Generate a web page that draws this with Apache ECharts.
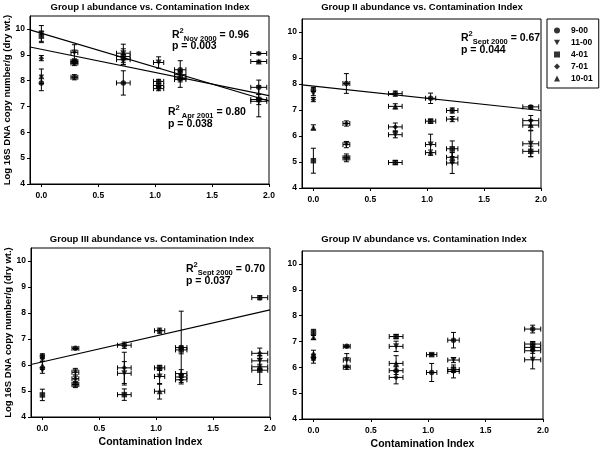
<!DOCTYPE html>
<html>
<head>
<meta charset="utf-8">
<script src="https://cdn.jsdelivr.net/npm/echarts@6/dist/echarts.min.js"></script>
<style>
  html, body { margin: 0; padding: 0; background: #fff; }
  #chart { width: 600px; height: 452px; }
</style>
</head>
<body>
<div id="chart"></div>
<script>
// x positions (contamination index of each site) and their +/- spread
const contaminationIndex = [0, 0.29, 0.72, 1.03, 1.22, 1.91]
const indexSpread = [0, 0.03, 0.06, 0.045, 0.05, 0.07]
const samplings = ['9-00', '11-00', '4-01', '7-01', '10-01']
const xTicks = [0, 0.5, 1, 1.5, 2]
const yTicks = [4, 5, 6, 7, 8, 9, 10]

// rows follow samplings order, columns follow contaminationIndex
const groupI = [
  [7.91, 8.13, 7.91, 7.97, 8.42, 7.74],
  [9.80, 9.09, 9.06, 8.70, 8.23, 7.20],
  [9.72, 8.74, 8.93, 7.81, 8.10, 7.27],
  [8.87, 8.68, 8.81, 7.69, 8.04, 9.05],
  [8.17, null, null, null, null, 8.74]
]
const groupIErr = [
  [0.30, 0.10, 0.47, 0.08, 0.35, 0.28],
  [0.33, 0.30, 0.35, 0.22, 0.15, 0.60],
  [0.20, 0.10, 0.30, 0.08, 0.15, 0.20],
  [0.10, 0.10, 0.20, 0.08, 0.30, 0.05],
  [0.28, null, null, null, null, 0.05]
]
const groupII = [
  [7.79, 8.02, 7.63, 7.45, 6.98, 7.12],
  [7.63, 5.67, 6.05, 5.67, 4.96, 5.70],
  [5.05, 5.16, 4.98, 6.57, 5.51, 5.41],
  [7.40, 6.48, 6.35, 5.36, 6.65, 6.59],
  [6.33, null, 7.14, null, 5.18, 6.42]
]
const groupIIErr = [
  [0.08, 0.38, 0.10, 0.20, 0.10, 0.05],
  [0.08, 0.12, 0.12, 0.40, 0.40, 0.50],
  [0.48, 0.15, 0.08, 0.08, 0.30, 0.20],
  [0.08, 0.10, 0.15, 0.10, 0.10, 0.20],
  [0.10, null, 0.10, null, 0.20, 0.20]
]
const groupIII = [
  [6.35, 6.64, 6.76, 7.32, 6.67, 8.59],
  [5.80, 5.72, 5.68, 5.56, 5.54, 6.16],
  [4.85, 5.25, 4.86, 5.89, 6.58, 5.80],
  [6.25, 5.47, 5.89, null, 5.43, 6.45],
  [5.98, null, null, 4.99, 5.67, 5.93]
]
const groupIIIErr = [
  [0.08, 0.05, 0.12, 0.10, 1.40, 0.08],
  [0.12, 0.15, 0.45, 0.30, 0.10, 0.20],
  [0.22, 0.12, 0.22, 0.10, 0.15, 0.55],
  [0.10, 0.15, 0.60, null, 0.10, 0.20],
  [0.15, null, null, 0.30, 0.15, 0.10]
]
const groupIV = [
  [6.38, 6.81, 5.87, 5.80, 7.05, 7.48],
  [6.28, 6.28, 6.81, null, 6.28, 6.29],
  [7.35, null, 7.19, 6.49, 5.91, 6.90],
  [6.51, 6.00, 5.61, null, 5.84, 6.64],
  [7.16, null, 6.15, null, null, 6.77]
]
const groupIVErr = [
  [0.10, 0.05, 0.15, 0.35, 0.30, 0.15],
  [0.12, 0.25, 0.20, null, 0.10, 0.35],
  [0.12, null, 0.08, 0.05, 0.10, 0.10],
  [0.15, 0.08, 0.25, null, 0.25, 0.10],
  [0.08, null, 0.30, null, null, 0.10]
]

// regression lines: [panel, intercept, slope]
const fitNov2000 = [0, 9.83, -1.31]
const fitApr2001 = [0, 9.21, -0.895]
const fitSept2000II = [1, 7.92, -0.47]
const fitSept2000III = [2, 6.12, 1.0]

const FONT = '"Liberation Sans", Arial, sans-serif'
const symbols = ['circle', 'path://M0,0L10,0L5,9Z', 'rect', 'diamond', 'triangle']
const panels = [
  { title: 'Group I abundance vs. Contamination Index', values: groupI, errs: groupIErr },
  { title: 'Group II abundance vs. Contamination Index', values: groupII, errs: groupIIErr },
  { title: 'Group III abundance vs. Contamination Index', values: groupIII, errs: groupIIIErr },
  { title: 'Group IV abundance vs. Contamination Index', values: groupIV, errs: groupIVErr }
]

const grids = [
  { left: 30, top: 16, width: 239, height: 168 },
  { left: 302, top: 19, width: 239, height: 169 },
  { left: 31, top: 248, width: 239, height: 169 },
  { left: 302, top: 251, width: 241, height: 168 }
]

const xAxes = grids.map((g, i) => ({
  type: 'value',
  gridIndex: i,
  min: -0.1,
  max: 2.0,
  name: i >= 2 ? 'Contamination Index' : '',
  nameLocation: 'middle',
  nameGap: 20,
  nameMoveOverlap: false,
  nameTextStyle: { fontSize: 10.5, fontWeight: 'bold', fontFamily: FONT, color: '#000' },
  axisLine: { onZero: false, lineStyle: { color: '#000', width: 1 } },
  axisTick: { customValues: xTicks, length: 3, lineStyle: { color: '#000' } },
  axisLabel: {
    customValues: xTicks,
    formatter: v => v.toFixed(1),
    fontSize: 8.5, fontWeight: 'bold', fontFamily: FONT, color: '#000', margin: 7
  },
  splitLine: { show: false }
}))

const yAxes = grids.map((g, i) => ({
  type: 'value',
  gridIndex: i,
  min: 4,
  max: 10.5,
  name: i % 2 === 0 ? 'Log 16S DNA copy number/g (dry wt.)' : '',
  nameLocation: 'middle',
  nameRotate: 90,
  nameGap: 18,
  nameMoveOverlap: false,
  nameTextStyle: { fontSize: 9.5, fontWeight: 'bold', fontFamily: FONT, color: '#000' },
  axisLine: { show: true, onZero: false, lineStyle: { color: '#000', width: 1 } },
  axisTick: { show: true, customValues: yTicks, length: 3, lineStyle: { color: '#000' } },
  axisLabel: {
    customValues: yTicks,
    fontSize: 8.5, fontWeight: 'bold', fontFamily: FONT, color: '#000', margin: 5
  },
  splitLine: { show: false }
}))

function pointsOf (values) {
  const out = []
  values.forEach((v, i) => {
    if (v != null) out.push([contaminationIndex[i], v])
  })
  return out
}

function barsOf (values, errs) {
  const out = []
  values.forEach((v, i) => {
    if (v != null) out.push([contaminationIndex[i], v, errs[i] || 0, indexSpread[i]])
  })
  return out
}

function renderBars (params, api) {
  const x = api.value(0)
  const y = api.value(1)
  const ey = api.value(2)
  const ex = api.value(3)
  const cap = 2.5
  const style = { stroke: '#000', lineWidth: 1 }
  const seg = (x1, y1, x2, y2) => ({ type: 'line', shape: { x1, y1, x2, y2 }, style })
  const children = []
  if (ey > 0) {
    const top = api.coord([x, y + ey])
    const bot = api.coord([x, y - ey])
    children.push(seg(top[0], top[1], bot[0], bot[1]))
    children.push(seg(top[0] - cap, top[1], top[0] + cap, top[1]))
    children.push(seg(bot[0] - cap, bot[1], bot[0] + cap, bot[1]))
  }
  if (ex > 0) {
    const l = api.coord([x - ex, y])
    const r = api.coord([x + ex, y])
    children.push(seg(l[0], l[1], r[0], r[1]))
    children.push(seg(l[0], l[1] - cap, l[0], l[1] + cap))
    children.push(seg(r[0], r[1] - cap, r[0], r[1] + cap))
  }
  return { type: 'group', children }
}

const series = []
panels.forEach((p, gi) => {
  p.values.forEach((row, si) => {
    series.push({
      name: samplings[si],
      type: 'scatter',
      xAxisIndex: gi,
      yAxisIndex: gi,
      symbol: symbols[si],
      symbolSize: si === 1 || si === 4 ? 6 : 5.5,
      itemStyle: { color: '#000' },
      data: pointsOf(row),
      z: 3,
      silent: true
    })
  })
})
panels.forEach((p, gi) => {
  p.values.forEach((row, si) => {
    series.push({
      name: samplings[si],
      type: 'custom',
      xAxisIndex: gi,
      yAxisIndex: gi,
      itemStyle: { color: '#000' },
      renderItem: renderBars,
      encode: { x: 0, y: 1 },
      data: barsOf(row, p.errs[si]),
      z: 2,
      silent: true
    })
  })
})
;[fitNov2000, fitApr2001, fitSept2000II, fitSept2000III].forEach((f, k) => {
  const [gi, a, b] = f
  series.push({
    name: 'fit' + k,
    type: 'line',
    xAxisIndex: gi,
    yAxisIndex: gi,
    symbol: 'none',
    lineStyle: { color: '#000', width: 1.2 },
    data: [[-0.1, a - 0.1 * b], [2.0, a + 2.0 * b]],
    z: 1,
    silent: true
  })
})

const rich = {
  b: { fontSize: 10.5, fontWeight: 'bold', fontFamily: FONT, color: '#000', verticalAlign: 'middle', lineHeight: 16 },
  sup: { fontSize: 7.5, fontWeight: 'bold', fontFamily: FONT, color: '#000', verticalAlign: 'top', lineHeight: 10 },
  sub: { fontSize: 7.5, fontWeight: 'bold', fontFamily: FONT, color: '#000', verticalAlign: 'bottom', lineHeight: 10 }
}
function stat (x, y, text) {
  return { type: 'text', x, y, style: { text, rich, align: 'left', verticalAlign: 'middle' }, z: 10 }
}
function plain (x, y, text, size, align) {
  return {
    type: 'text', x, y,
    style: { text, fontSize: size, fontWeight: 'bold', fontFamily: FONT, fill: '#000', align: align || 'left', verticalAlign: 'middle' },
    z: 10
  }
}

const graphic = [
  plain(150, 7, panels[0].title, 9.5, 'center'),
  plain(422, 7, panels[1].title, 9.5, 'center'),
  plain(152, 239, panels[2].title, 9.5, 'center'),
  plain(424, 239, panels[3].title, 9.5, 'center'),
  stat(172, 35, '{b|R}{sup|2}{sub|Nov 2000}{b| = 0.96}'),
  plain(172, 46, 'p = 0.003', 10.5),
  stat(168, 112, '{b|R}{sup|2}{sub| Apr 2001}{b| = 0.80}'),
  plain(168, 124, 'p = 0.038', 10.5),
  stat(461, 38, '{b|R}{sup|2}{sub|Sept 2000}{b| = 0.67}'),
  plain(461, 50, 'p = 0.044', 10.5),
  stat(186, 269, '{b|R}{sup|2}{sub|Sept 2000}{b| = 0.70}'),
  plain(186, 281, 'p = 0.037', 10.5)
]

const option = {
  animation: false,
  backgroundColor: '#fff',
  grid: grids.map(g => Object.assign({ show: true, borderColor: '#000', borderWidth: 1, backgroundColor: 'transparent' }, g)),
  xAxis: xAxes,
  yAxis: yAxes,
  legend: {
    data: samplings.map((s, i) => ({ name: s, icon: symbols[i] })),
    orient: 'vertical',
    left: 547,
    top: 19,
    padding: [7, 6, 5, 7],
    itemGap: 3,
    itemWidth: 6,
    itemHeight: 6,
    borderColor: '#000',
    borderWidth: 1,
    selectedMode: false,
    textStyle: { fontSize: 8.5, fontWeight: 'bold', fontFamily: FONT, color: '#000', padding: [0, 0, 0, 6] }
  },
  graphic,
  series
}

const chart = echarts.init(document.getElementById('chart'))
chart.setOption(option)
window.addEventListener('resize', () => chart.resize())
</script>
</body>
</html>
